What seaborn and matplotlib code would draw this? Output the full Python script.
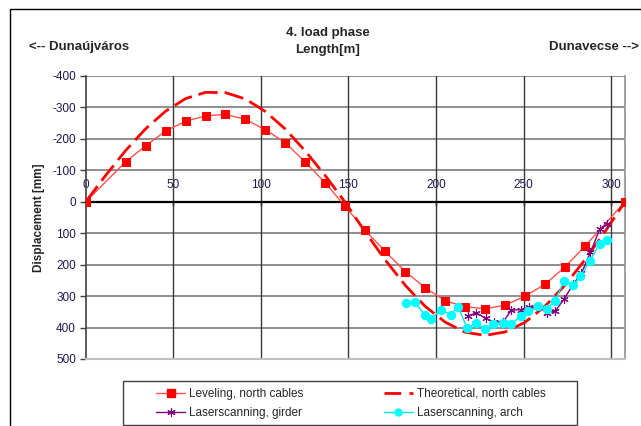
import pandas as pd
import seaborn as sns
import matplotlib.pyplot as plt
from matplotlib.patches import Rectangle
from matplotlib.lines import Line2D

# leveling, north cables
lev_x = [0, 22.8, 34.2, 45.6, 57.0, 68.4, 79.8, 91.2, 102.6, 114.0, 125.4, 136.8, 148.2,
         159.6, 171.0, 182.5, 193.9, 205.3, 216.7, 228.1, 239.5, 250.9, 262.3, 273.7, 285.1, 307.9]
lev_y = [0, -127, -178, -225, -256, -273, -278, -262, -229, -188, -126, -60, 15,
         91, 158, 222, 274, 315, 334, 340, 329, 300, 262, 207, 141, 0]

# theoretical, north cables
th_x = [0, 11.4, 22.8, 34.2, 45.6, 57.0, 68.4, 79.8, 91.2, 102.6, 114.0, 125.4, 136.8, 148.2,
        159.6, 171.0, 182.5, 193.9, 205.3, 216.7, 228.1, 239.5, 250.9, 262.3, 273.7, 285.1, 296.5, 307.9]
th_y = [0, -84, -163, -232, -288, -328, -348, -347, -327, -287, -231, -161, -83, 2,
        96, 185, 266, 333, 383, 415, 425, 414, 383, 332, 265, 184, 95, 0]

# laserscanning, girder
gir_x = [218.0, 223.1, 228.3, 233.0, 238.4, 242.9, 248.4, 253.2, 258.3, 263.4, 268.2,
         273.3, 278.3, 283.0, 288.2, 293.5, 297.7]
gir_y = [364, 353, 371, 382, 382, 345, 343, 336, 334, 353, 347, 308, 262, 228, 160, 87, 71]

# laserscanning, arch
arc_x = [182.7, 187.8, 193.5, 197.3, 202.7, 208.4, 212.6, 217.9, 223.1, 227.7, 232.6, 238.4,
         242.9, 248.4, 252.8, 258.3, 263.1, 267.9, 273.1, 278.4, 282.5, 287.8, 293.5, 297.7]
arc_y = [321, 319, 359, 373, 343, 359, 334, 403, 385, 406, 389, 385,
         389, 364, 347, 332, 340, 315, 253, 265, 237, 188, 133, 122]

x_ticks = [0, 50, 100, 150, 200, 250, 300]
y_ticks = [-400, -300, -200, -100, 0, 100, 200, 300, 400, 500]

sns.set_style('white')
plt.rcParams['font.family'] = ['Liberation Sans', 'DejaVu Sans']
plt.rcParams['axes.unicode_minus'] = False

fig = plt.figure(figsize=(6.41, 4.26), dpi=100)
ax = fig.add_axes([0.1337, 0.1573, 0.8413, 0.6643])

# grid
for yv in y_ticks:
    if yv != 0:
        ax.axhline(yv, color='#707070', lw=1.1, zorder=1)
for xv in x_ticks[1:]:
    ax.axvline(xv, color='#383838', lw=1.0, zorder=1)

sns.lineplot(x=lev_x, y=lev_y, ax=ax, color='#ff5050', lw=1, marker='s', markersize=6,
             markerfacecolor='#ff0000', markeredgecolor='#ff0000', estimator=None, sort=False,
             zorder=3)
sns.lineplot(x=th_x, y=th_y, ax=ax, color='#ff0000', lw=2, estimator=None, sort=False,
             zorder=3).lines[-1].set_dashes([7, 2.5])
sns.lineplot(x=gir_x, y=gir_y, ax=ax, color='#800080', lw=1, marker=(6, 2, 0), markersize=6,
             markeredgecolor='#800080', markeredgewidth=0.8, estimator=None, sort=False, zorder=4)
sns.lineplot(x=arc_x, y=arc_y, ax=ax, color='#00e5ee', lw=1, marker='o', markersize=6,
             markerfacecolor='#00ffff', markeredgecolor='#00ffff', estimator=None, sort=False,
             zorder=5)

ax.set_xlim(0, 307.9)
ax.set_ylim(500, -400)
ax.set_xticks(x_ticks)
ax.set_yticks(y_ticks)

# x axis drawn through zero, labels above it
ax.xaxis.tick_top()
ax.spines['top'].set_position(('data', 0))
ax.spines['top'].set_color('black')
ax.spines['top'].set_linewidth(1.6)
ax.spines['top'].set_zorder(2)
ax.spines['left'].set_color('#404040')
ax.spines['left'].set_linewidth(1.2)
ax.spines['right'].set_color('#909090')
ax.spines['right'].set_linewidth(1.2)
ax.spines['bottom'].set_color('#c0c0c0')
ax.spines['bottom'].set_linewidth(1.5)
ax.tick_params(axis='x', direction='in', length=3, width=1, pad=8, labelsize=8.5,
               colors='black', labelcolor='#1a1a50')
ax.tick_params(axis='y', direction='out', length=4, width=1, pad=3, labelsize=8.5,
               colors='#404040', labelcolor='#1a1a50', left=True)

ax.set_ylabel('Displacement [mm]', fontsize=8.5, fontweight='bold', labelpad=5)

fig.text(0.511, 0.922, '4. load phase', ha='center', va='center', fontsize=9.5, fontweight='bold')
fig.text(0.511, 0.883, 'Length[m]', ha='center', va='center', fontsize=9.5, fontweight='bold')
fig.text(0.046, 0.889, '<-- Dunaújváros', ha='left', va='center', fontsize=9.5, fontweight='bold')
fig.text(0.996, 0.889, 'Dunavecse -->', ha='right', va='center', fontsize=9.5, fontweight='bold')

# outer chart frame
fig.add_artist(Rectangle((10 / 641, -0.05), 1.0, 1.05 - 9 / 426, transform=fig.transFigure,
                         fill=False, edgecolor='black', lw=1))

# legend (ordered so rows read: leveling | theoretical, girder | arch)
h_lev = Line2D([], [], color='#ff5050', lw=1, marker='s', markersize=6,
               markerfacecolor='#ff0000', markeredgecolor='#ff0000')
h_th = Line2D([], [], color='#ff0000', lw=2, dashes=[6, 3])
h_gir = Line2D([], [], color='#800080', lw=1, marker=(6, 2, 0), markersize=6, markeredgewidth=0.8)
h_arc = Line2D([], [], color='#00e5ee', lw=1, marker='o', markersize=5,
               markerfacecolor='#00ffff', markeredgecolor='#00ffff')
handles = [h_lev, h_gir, h_th, h_arc]
labels = ['Leveling, north cables', 'Laserscanning, girder',
          'Theoretical, north cables', 'Laserscanning, arch']
fig.add_artist(Rectangle((123 / 641, 1 / 426), 454 / 641, 44 / 426, transform=fig.transFigure,
                         fill=False, edgecolor='#404040', lw=1))
fig.legend(handles, labels, loc='center left', bbox_to_anchor=(150 / 641, 1 - 403.5 / 426),
           ncol=2, frameon=False, fontsize=8.5, handlelength=2.5, handletextpad=0.3,
           columnspacing=6.8, labelspacing=0.65, borderpad=0)

fig.savefig('out.png', dpi=100)
